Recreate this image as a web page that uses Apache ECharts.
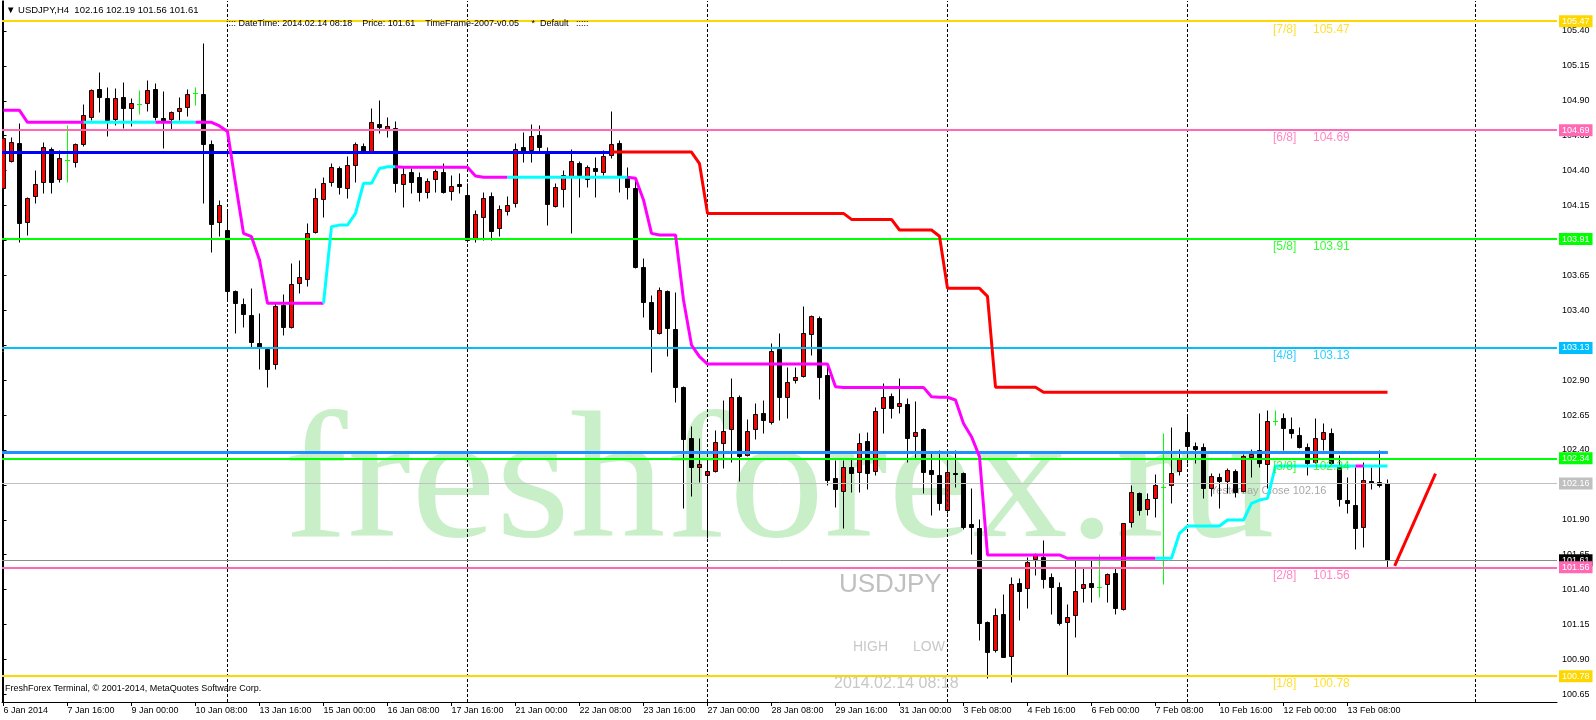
<!DOCTYPE html>
<html><head><meta charset="utf-8">
<script src="https://cdn.jsdelivr.net/npm/echarts@6/dist/echarts.min.js"></script>
<style>html,body{margin:0;padding:0;background:#fff}#c{width:1596px;height:720px}</style>
</head><body><div id="c"></div>
<script>
// ---------- DATA ----------
const opens = [104.273,104.471,104.595,104.034,104.218,104.316,104.555,104.338,104.476,104.464,104.591,104.782,104.982,104.918,104.772,104.925,104.846,104.877,104.882,104.982,104.775,104.767,104.825,104.853,104.958,104.949,104.588,104.034,103.972,103.536,103.445,103.366,103.166,103.120,103.013,103.438,103.282,103.593,103.621,103.963,104.194,104.321,104.419,104.273,104.438,104.576,104.543,104.734,104.700,104.703,104.302,104.388,104.352,104.245,104.338,104.388,104.252,104.302,104.226,103.908,104.070,104.218,103.987,104.113,104.166,104.567,104.548,104.655,104.543,104.149,104.271,104.352,104.452,104.338,104.416,104.393,104.512,104.596,104.352,104.273,103.708,103.459,103.240,103.538,103.266,102.853,102.483,102.275,102.220,102.249,102.447,102.550,102.777,102.364,102.547,102.662,102.602,103.120,102.777,102.901,102.932,103.230,103.342,102.937,102.197,102.106,102.280,102.244,102.466,102.251,102.703,102.786,102.714,102.727,102.500,102.547,102.256,102.220,101.970,102.237,102.232,101.867,101.838,101.170,100.967,101.225,100.927,101.445,101.409,101.616,101.636,101.488,101.416,101.165,101.215,101.409,101.445,101.421,101.440,101.516,101.258,101.886,102.089,101.974,102.053,102.132,102.149,102.249,102.531,102.428,102.418,102.125,102.204,102.177,102.251,102.108,102.352,102.399,102.297,102.610,102.626,102.547,102.507,102.418,102.316,102.476,102.523,102.292,102.041,102.005,101.846,102.177,102.168,102.16];
const closes = [104.631,104.603,104.022,104.202,104.302,104.567,104.321,104.488,104.476,104.588,104.796,104.975,104.925,104.763,104.918,104.851,104.884,104.877,104.975,104.782,104.746,104.820,104.846,104.946,104.958,104.591,104.020,104.151,103.540,103.455,103.376,103.175,103.127,102.982,103.431,103.278,103.586,103.636,103.956,104.202,104.314,104.424,104.285,104.443,104.588,104.543,104.746,104.715,104.720,104.314,104.376,104.321,104.249,104.326,104.397,104.245,104.292,104.288,103.903,104.087,104.202,103.970,104.125,104.152,104.553,104.541,104.648,104.567,104.161,104.285,104.366,104.469,104.369,104.424,104.400,104.505,104.591,104.369,104.285,103.712,103.462,103.263,103.545,103.275,102.853,102.476,102.280,102.299,102.251,102.454,102.535,102.781,102.357,102.535,102.655,102.614,103.108,102.781,102.884,102.925,103.235,103.359,102.925,102.185,102.118,102.275,102.232,102.452,102.232,102.681,102.777,102.703,102.734,102.483,102.531,102.244,102.225,102.017,102.244,102.228,101.850,101.846,101.158,100.955,101.218,100.915,101.440,101.392,101.600,101.647,101.473,101.421,101.158,101.206,101.392,101.437,101.416,101.421,101.509,101.270,101.874,102.096,101.970,102.049,102.149,102.132,102.232,102.335,102.430,102.404,102.130,102.216,102.180,102.256,102.101,102.356,102.371,102.304,102.607,102.610,102.555,102.519,102.423,102.304,102.483,102.526,102.304,102.046,102.017,101.838,102.185,102.161,102.149,101.61];
const highs = [104.643,104.643,104.739,104.213,104.405,104.607,104.572,104.548,104.727,104.600,104.877,104.982,105.104,104.996,104.989,105.032,104.918,104.977,105.047,105.030,104.970,104.829,104.925,104.982,105.001,105.316,104.619,104.190,104.118,103.545,103.486,103.557,103.383,103.125,103.450,103.517,103.736,103.760,104.027,104.273,104.357,104.457,104.433,104.505,104.607,104.595,104.846,104.906,104.782,104.758,104.428,104.416,104.392,104.345,104.409,104.452,104.369,104.381,104.314,104.118,104.249,104.249,104.154,104.218,104.600,104.679,104.732,104.727,104.567,104.309,104.405,104.553,104.472,104.440,104.500,104.548,104.830,104.620,104.424,104.345,103.772,103.509,103.569,103.545,103.533,102.857,102.571,102.483,102.328,102.543,102.758,102.913,102.793,102.619,102.734,102.758,103.163,103.235,102.991,102.991,103.431,103.366,103.359,103.008,102.328,102.328,102.340,102.524,102.531,102.705,102.877,102.805,102.913,102.770,102.753,102.555,102.376,102.399,102.328,102.399,102.244,102.125,101.903,101.177,101.265,101.368,101.492,101.480,101.636,101.664,101.755,101.521,101.456,101.297,101.612,101.564,101.612,101.655,101.521,101.552,101.879,102.149,102.101,102.089,102.228,102.523,102.567,102.407,102.643,102.459,102.447,102.232,102.232,102.268,102.261,102.371,102.404,102.662,102.686,102.686,102.662,102.633,102.567,102.447,102.626,102.590,102.555,102.364,102.204,102.275,102.316,102.275,102.400,102.19];
const lows = [104.237,104.464,103.891,103.939,104.166,104.237,104.237,104.321,104.321,104.428,104.576,104.762,104.822,104.650,104.727,104.703,104.722,104.806,104.827,104.762,104.564,104.700,104.762,104.791,104.870,104.171,103.815,103.934,103.474,103.240,103.278,103.135,102.977,102.848,102.982,103.225,103.275,103.521,103.574,103.951,104.070,104.290,104.233,104.202,104.321,104.524,104.536,104.672,104.643,104.249,104.137,104.237,104.185,104.202,104.249,104.237,104.190,104.242,103.891,103.891,103.903,103.903,103.932,104.082,104.137,104.464,104.464,104.536,104.011,104.142,104.142,103.956,104.214,104.285,104.214,104.369,104.488,104.249,104.195,103.700,103.354,102.960,103.230,103.075,102.746,101.986,102.070,102.173,101.767,102.244,102.268,102.316,102.180,102.357,102.476,102.519,102.586,102.614,102.626,102.882,102.925,103.080,102.762,102.149,101.989,101.838,102.101,102.101,102.118,102.220,102.524,102.626,102.662,102.316,102.333,102.094,101.934,101.970,101.946,102.137,101.831,101.655,101.039,100.764,100.955,100.915,100.740,101.182,101.265,101.504,101.409,101.222,101.146,100.788,101.058,101.313,101.313,101.344,101.313,101.222,101.254,101.846,101.934,101.934,101.922,101.440,102.017,102.220,102.304,102.304,102.053,102.070,101.986,102.089,102.065,102.101,102.204,102.275,102.125,102.578,102.400,102.483,102.411,102.220,102.304,102.400,102.285,101.998,101.946,101.688,101.702,102.118,102.132,101.56];

// trailing stop line (one value per bar) and its trend state: 'D' = down (magenta), 'U' = up (cyan)
const trailLine = [104.832,104.832,104.832,104.746,104.746,104.746,104.746,104.746,104.746,104.746,104.746,104.746,104.746,104.746,104.746,104.746,104.746,104.746,104.746,104.746,104.746,104.746,104.746,104.746,104.746,104.746,104.746,104.72,104.68,104.309,103.951,103.927,103.760,103.450,103.450,103.450,103.450,103.450,103.450,103.450,103.450,103.999,104.010,104.010,104.094,104.309,104.309,104.416,104.428,104.428,104.424,104.424,104.424,104.424,104.424,104.424,104.424,104.424,104.424,104.362,104.352,104.352,104.352,104.352,104.352,104.352,104.352,104.352,104.352,104.352,104.352,104.352,104.352,104.352,104.352,104.352,104.352,104.352,104.352,104.345,104.190,103.951,103.939,103.939,103.939,103.474,103.151,103.068,103.015,103.015,103.015,103.015,103.015,103.015,103.015,103.015,103.015,103.015,103.015,103.015,103.015,103.015,103.015,103.015,102.853,102.848,102.848,102.848,102.848,102.848,102.848,102.848,102.848,102.848,102.848,102.848,102.781,102.777,102.777,102.758,102.590,102.495,102.352,101.648,101.648,101.648,101.648,101.648,101.648,101.648,101.648,101.648,101.648,101.624,101.624,101.624,101.624,101.624,101.624,101.624,101.624,101.624,101.624,101.624,101.624,101.624,101.624,101.803,101.855,101.855,101.855,101.855,101.855,101.898,101.898,101.898,102.018,102.041,102.053,102.285,102.285,102.285,102.285,102.285,102.285,102.285,102.285,102.285,102.285,102.285,102.285,102.285,102.285,102.285];
const trailTrend = 'DDDDDDDDDDUUUUUUUUUDDUUUDDDDDDDDDDDDDDDDUUUUUUUUUDDDDDDDDDDDDDDUUUUUUUUUUUUUUUDDDDDDDDDDDDDDDDDDDDDDDDDDDDDDDDDDDDDDDDDDDDDDDDDDDDDDDDDDDDDDDDDDUUUUUUUUUUUUUUUUUUUUUUUUUDUUUDD';

// red resistance step line, starts at bar 76
const resistStart = 76;
const resistLine = [104.533,104.533,104.533,104.533,104.533,104.533,104.533,104.533,104.533,104.533,104.533,104.45,104.094,104.094,104.094,104.094,104.094,104.094,104.094,104.094,104.094,104.094,104.094,104.094,104.094,104.094,104.094,104.094,104.094,104.094,104.051,104.051,104.051,104.051,104.051,104.051,103.975,103.975,103.975,103.975,103.975,103.93,103.557,103.557,103.557,103.557,103.557,103.50,102.849,102.849,102.849,102.849,102.849,102.849,102.813,102.813,102.813,102.813,102.813,102.813,102.813,102.813,102.813,102.813,102.813,102.813,102.813,102.813,102.813,102.813,102.813,102.813,102.813,102.813,102.813,102.813,102.813,102.813,102.813,102.813,102.813,102.813,102.813,102.813,102.813,102.813,102.813,102.813,102.813,102.813,102.813,102.813,102.813,102.813,102.813,102.813,102.813,102.813];
const projectionLine = [[173.9, 101.57], [179.0, 102.23]];

const murreyLevels = [105.47, 104.69, 103.91, 103.13, 102.34, 101.56, 100.78];
const murreyNames = ['[7/8]', '[6/8]', '[5/8]', '[4/8]', '[3/8]', '[2/8]', '[1/8]'];
const pivotLevel = 104.53;     // dark blue line, ends at bar 75.8
const pivotEndBar = 75.8;
const supportLevel = 102.383;  // dodger blue line, ends at bar 173
const supportEndBar = 173.05;
const yesterdayClose = 102.16;
const bidPrice = 101.61;

const separatorBars = [28, 58, 88, 118, 148, 184];
const timeLabelBars = [0, 8, 16, 24, 32, 40, 48, 56, 64, 72, 80, 88, 96, 104, 112, 120, 128, 136, 144, 152, 160, 168];
const timeLabels = ['6 Jan 2014', '7 Jan 16:00', '9 Jan 00:00', '10 Jan 08:00', '13 Jan 16:00', '15 Jan 00:00', '16 Jan 08:00', '17 Jan 16:00', '21 Jan 00:00', '22 Jan 08:00', '23 Jan 16:00', '27 Jan 00:00', '28 Jan 08:00', '29 Jan 16:00', '31 Jan 00:00', '3 Feb 08:00', '4 Feb 16:00', '6 Feb 00:00', '7 Feb 08:00', '10 Feb 16:00', '12 Feb 00:00', '13 Feb 08:00'];
const priceTicks = [100.65, 100.90, 101.15, 101.40, 101.65, 101.90, 102.15, 102.40, 102.65, 102.90, 103.15, 103.40, 103.65, 103.90, 104.15, 104.40, 104.65, 104.90, 105.15, 105.40];

// ---------- CHART ----------
const FONT = '"Liberation Sans", Arial, sans-serif';
const murreyColors = ['#FFD700', '#FF69B4', '#00FF00', '#00BFFF', '#00FF00', '#FF69B4', '#FFD700'];

const chart = echarts.init(document.getElementById('c'), null, { renderer: 'canvas' });

const candleData = opens.map((o, i) => [i, o, closes[i], lows[i], highs[i]]);

function renderCandle(params, api) {
  const i = api.value(0), o = api.value(1), c = api.value(2), l = api.value(3), h = api.value(4);
  const pO = api.coord([i, o]), pC = api.coord([i, c]);
  const yL = api.coord([i, l])[1], yH = api.coord([i, h])[1];
  const cx = Math.floor(pO[0]) + 0.5;
  const yTop = Math.round(Math.min(pO[1], pC[1])) + 0.5;
  const yBot = Math.round(Math.max(pO[1], pC[1])) + 0.5;
  const wTop = Math.round(yH) + 0.5, wBot = Math.round(yL) + 0.5;
  const ch = [];
  if (Math.abs(o - c) < 1e-6) {
    ch.push({ type: 'line', shape: { x1: cx, y1: wTop, x2: cx, y2: wBot }, style: { stroke: '#00FF00', lineWidth: 1 } });
    ch.push({ type: 'line', shape: { x1: cx - 2.5, y1: yTop, x2: cx + 2.5, y2: yTop }, style: { stroke: '#00FF00', lineWidth: 1 } });
  } else {
    ch.push({ type: 'line', shape: { x1: cx, y1: wTop, x2: cx, y2: wBot }, style: { stroke: '#000', lineWidth: 1 } });
    ch.push({ type: 'rect', shape: { x: cx - 2, y: yTop, width: 4, height: Math.max(yBot - yTop, 1) },
      style: { fill: c > o ? '#FF0000' : '#000000', stroke: '#000', lineWidth: 1 } });
  }
  return { type: 'group', children: ch };
}

// trail segments
const trailSeries = [];
let runStart = 0;
for (let j = 1; j <= trailTrend.length; j++) {
  if (j === trailTrend.length || trailTrend[j] !== trailTrend[runStart]) {
    const end = Math.min(j, trailLine.length - 1);
    const pts = [];
    for (let k = runStart; k <= end; k++) pts.push([k, trailLine[k]]);
    trailSeries.push({
      type: 'line', data: pts, showSymbol: false, symbol: 'none', silent: true, z: 6,
      lineStyle: { color: trailTrend[runStart] === 'D' ? '#FF00FF' : '#00FFFF', width: 3 }
    });
    runStart = j;
  }
}

const resistData = resistLine.map((v, k) => [resistStart + k, v]);

const xMin = -0.1875, xMax = 194.1875;
const yMin = 100.5951, yMax = 105.6148;

function tag(v, bg, txt) {
  return { show: true, position: 'end', distance: 2, formatter: txt, color: '#fff',
    backgroundColor: bg, padding: [2, 3, 0, 3], fontSize: 9, fontFamily: FONT, lineHeight: 10 };
}

const levelLines = [];
levelLines.push({ yAxis: bidPrice, lineStyle: { color: '#8C8C8C', width: 1, type: 'solid' }, label: tag(bidPrice, '#000000', bidPrice.toFixed(2)) });
levelLines.push({ yAxis: yesterdayClose, lineStyle: { color: '#C0C0C0', width: 1, type: 'solid' }, label: tag(yesterdayClose, '#C0C0C0', yesterdayClose.toFixed(2)) });
murreyLevels.forEach((v, k) => {
  levelLines.push({ yAxis: v, lineStyle: { color: murreyColors[k], width: 2, type: 'solid' }, label: tag(v, murreyColors[k], v.toFixed(2)) });
});
levelLines.push([{ coord: [xMin, pivotLevel], lineStyle: { color: '#0000FF', width: 3, type: 'solid' }, label: { show: false } }, { coord: [pivotEndBar, pivotLevel] }]);
levelLines.push([{ coord: [xMin, supportLevel], lineStyle: { color: '#1E90FF', width: 3, type: 'solid' }, label: { show: false } }, { coord: [supportEndBar, supportLevel] }]);

const nameTags = murreyLevels.map((v, k) => ({ value: [158.69, v], label: { color: murreyColors[k], formatter: murreyNames[k] } }));
const valueTags = murreyLevels.map((v, k) => ({ value: [163.69, v], label: { color: murreyColors[k], formatter: v.toFixed(2) } }));

const option = {
  animation: false,
  backgroundColor: '#ffffff',
  grid: { left: 2, right: 39, top: 1, bottom: 18 },
  xAxis: {
    type: 'value', min: xMin, max: xMax,
    axisLine: { show: true, onZero: false, lineStyle: { color: '#000', width: 1 } },
    axisTick: { show: true, customValues: timeLabelBars, length: 4, lineStyle: { color: '#000' } },
    axisLabel: { show: true, customValues: timeLabelBars, align: 'left', margin: 4, fontSize: 9, fontFamily: FONT, color: '#000',
      formatter: v => timeLabels[timeLabelBars.indexOf(Math.round(v))] || '' },
    splitLine: { show: false }
  },
  yAxis: [{
    type: 'value', position: 'right', min: yMin, max: yMax, scale: true,
    axisLine: { show: true, lineStyle: { color: '#000', width: 1 } },
    axisTick: { show: true, customValues: priceTicks, length: 3, lineStyle: { color: '#000' } },
    axisLabel: { show: true, customValues: priceTicks, margin: 5, fontSize: 9, fontFamily: FONT, color: '#000', formatter: v => v.toFixed(2) },
    splitLine: { show: false }
  }, {
    type: 'value', position: 'left', min: yMin, max: yMax,
    axisLine: { show: true, lineStyle: { color: '#000', width: 1 } },
    axisTick: { show: false }, axisLabel: { show: false }, splitLine: { show: false }
  }],
  graphic: [
    { type: 'text', z: 0, silent: true, x: 284, y: 399, scaleX: 1.06, style: { text: 'freshforex.ru', font: '180px "Liberation Serif", "Times New Roman", serif', fill: '#C9EFC9', verticalAlign: 'top' } },
    { type: 'text', z: 1, silent: true, x: 839, y: 585, style: { text: 'USDJPY', font: '26px "Liberation Sans", Arial, sans-serif', fill: '#C0C0C0', verticalAlign: 'middle' } },
    { type: 'text', z: 1, silent: true, x: 853, y: 647, style: { text: 'HIGH', font: '14px "Liberation Sans", Arial, sans-serif', fill: '#C8C8C8', verticalAlign: 'middle' } },
    { type: 'text', z: 1, silent: true, x: 913, y: 647, style: { text: 'LOW', font: '14px "Liberation Sans", Arial, sans-serif', fill: '#C8C8C8', verticalAlign: 'middle' } },
    { type: 'text', z: 1, silent: true, x: 834, y: 684, style: { text: '2014.02.14 08:18', font: '16px "Liberation Sans", Arial, sans-serif', fill: '#C8C8C8', verticalAlign: 'middle' } },
    { type: 'text', z: 1, silent: true, x: 1210, y: 491, style: { text: 'Yesterday Close 102.16', font: '11px "Liberation Sans", Arial, sans-serif', fill: '#A8A8A8', verticalAlign: 'middle' } },
    { type: 'text', z: 10, silent: true, x: 6, y: 10, style: { text: '▼ USDJPY,H4  102.16 102.19 101.56 101.61', font: '9.5px "Liberation Sans", Arial, sans-serif', fill: '#000', verticalAlign: 'middle' } },
    { type: 'text', z: 10, silent: true, x: 226, y: 24, style: { text: ':::: DateTime: 2014.02.14 08:18    Price: 101.61    TimeFrame-2007-v0.05     *  Default   :::::', font: '9px "Liberation Sans", Arial, sans-serif', fill: '#000', verticalAlign: 'middle' } },
    { type: 'text', z: 10, silent: true, x: 5, y: 689, style: { text: 'FreshForex Terminal, © 2001-2014, MetaQuotes Software Corp.', font: '9px "Liberation Sans", Arial, sans-serif', fill: '#000', verticalAlign: 'middle' } }
  ],
  series: [
    { type: 'line', data: [], z: 1, silent: true,
      markLine: { silent: true, symbol: 'none', animation: false, label: { show: false },
        lineStyle: { color: '#000', type: [3, 2], width: 1 },
        data: separatorBars.map(b => ({ xAxis: b })) } },
    { type: 'custom', renderItem: renderCandle, data: candleData, z: 3, silent: true, clip: true,
      encode: { x: 0, y: [1, 2, 3, 4] } },
    { type: 'line', data: [], z: 4, silent: true,
      markLine: { silent: true, symbol: 'none', animation: false, data: levelLines } },
    ...trailSeries,
    { type: 'line', data: resistData, showSymbol: false, symbol: 'none', silent: true, z: 6, lineStyle: { color: '#FF0000', width: 3 } },
    { type: 'line', data: projectionLine, showSymbol: false, symbol: 'none', silent: true, z: 6, lineStyle: { color: '#FF0000', width: 3 } },
    { type: 'scatter', data: nameTags, symbolSize: 0, silent: true, z: 7,
      label: { show: true, position: 'right', distance: 0, offset: [0, 8], fontSize: 12, fontFamily: FONT } },
    { type: 'scatter', data: valueTags, symbolSize: 0, silent: true, z: 7,
      label: { show: true, position: 'right', distance: 0, offset: [0, 8], fontSize: 12, fontFamily: FONT } }
  ]
};
chart.setOption(option);
</script>
</body></html>
